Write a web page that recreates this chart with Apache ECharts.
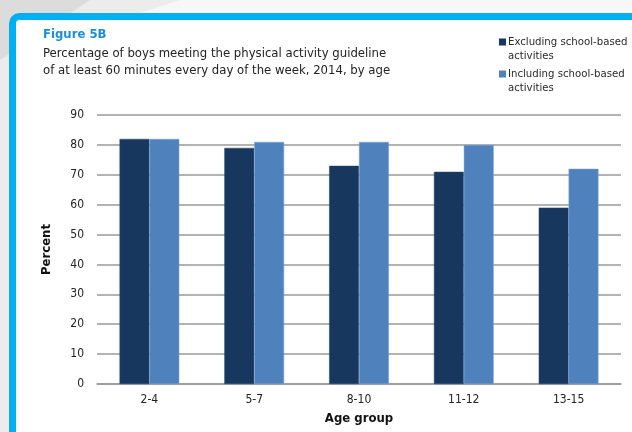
<!DOCTYPE html>
<html>
<head>
<meta charset="utf-8">
<script src="https://cdn.jsdelivr.net/npm/echarts@6/dist/echarts.min.js"></script>
<style>
  html, body { margin: 0; padding: 0; background: #ececec; }
  #chart { width: 632px; height: 432px; }
</style>
</head>
<body>
<div id="chart"></div>
<script>
// Age groups and share of boys meeting the guideline (%)
var ageGroups = ['2-4', '5-7', '8-10', '11-12', '13-15'];
var excludingSchool = [82, 79, 73, 71, 59];
var includingSchool = [82, 81, 81, 80, 72];
var seriesNames = ['Excluding school-based\nactivities', 'Including school-based\nactivities'];
var yTicks = { min: 0, max: 90, step: 10 };

var FONT = '"DejaVu Sans Condensed", "DejaVu Sans", sans-serif';
var chart = echarts.init(document.getElementById('chart'), null, { renderer: 'canvas' });

// legend marker: small square sitting beside the first text line
var legendIcon = 'path://M0,3.5L7,3.5L7,10.5L0,10.5Z M0,0L0.01,0L0.01,0.01Z M0,28L0.01,28L0.01,27.99Z';

chart.setOption({
  backgroundColor: '#ececec',
  animation: false,
  graphic: [
    // faint backdrop shapes behind the panel
    { type: 'polygon', z: -10, shape: { points: [[0, 0], [90, 0], [0, 60]] }, style: { fill: '#dcdcdc' } },
    { type: 'polygon', z: -10, shape: { points: [[180, 0], [632, 0], [632, 13], [140, 13]] }, style: { fill: '#f7f7f7' } },
    // panel with blue frame
    { type: 'rect', z: -5, shape: { x: 12.5, y: 16.5, width: 700, height: 500, r: 7 },
      style: { fill: '#ffffff', stroke: '#00b0f0', lineWidth: 7 } },
    { type: 'text', left: 43, top: 28, style: { text: 'Figure 5B', font: 'bold 13px ' + FONT, fill: '#1a8fd8' } },
    { type: 'text', left: 43, top: 45, style: {
        text: 'Percentage of boys meeting the physical activity guideline\nof at least 60 minutes every day of the week, 2014, by age',
        font: '13px ' + FONT, fill: '#222222', lineHeight: 17 } }
  ],
  legend: {
    orient: 'vertical',
    left: 499, top: 35,
    padding: 0,
    itemWidth: 7, itemHeight: 28, itemGap: 4,
    icon: legendIcon,
    itemStyle: { borderWidth: 0 },
    textStyle: { fontFamily: FONT, fontSize: 11.3, color: '#2a2a2a', lineHeight: 14, padding: [0, 0, 0, -3] },
    data: seriesNames
  },
  grid: { left: 97, right: 11, top: 115, bottom: 48, containLabel: false },
  xAxis: {
    type: 'category',
    data: ageGroups,
    name: 'Age group',
    nameLocation: 'middle',
    nameGap: 28,
    nameTextStyle: { fontFamily: FONT, fontSize: 13, fontWeight: 'bold', color: '#111' },
    axisLine: { lineStyle: { color: '#999', width: 1.5 } },
    axisTick: { show: false },
    axisLabel: { fontFamily: FONT, fontSize: 12, color: '#222', margin: 10 }
  },
  yAxis: {
    type: 'value',
    min: yTicks.min, max: yTicks.max, interval: yTicks.step,
    name: 'Percent',
    nameLocation: 'middle',
    nameGap: 44,
    nameTextStyle: { fontFamily: FONT, fontSize: 13, fontWeight: 'bold', color: '#111' },
    axisLine: { show: false },
    axisTick: { show: false },
    axisLabel: { fontFamily: FONT, fontSize: 12, color: '#222', margin: 13 },
    splitLine: { lineStyle: { color: '#9a9a9a', width: 1.5 } }
  },
  series: [
    { name: seriesNames[0], type: 'bar', data: excludingSchool, barGap: '0%', barCategoryGap: '43%',
      itemStyle: { color: '#17375e', borderColor: '#2a4a72', borderWidth: 0.5 } },
    { name: seriesNames[1], type: 'bar', data: includingSchool,
      itemStyle: { color: '#4f81bd', borderColor: '#7aa3d6', borderWidth: 0.5 } }
  ]
});
</script>
</body>
</html>
